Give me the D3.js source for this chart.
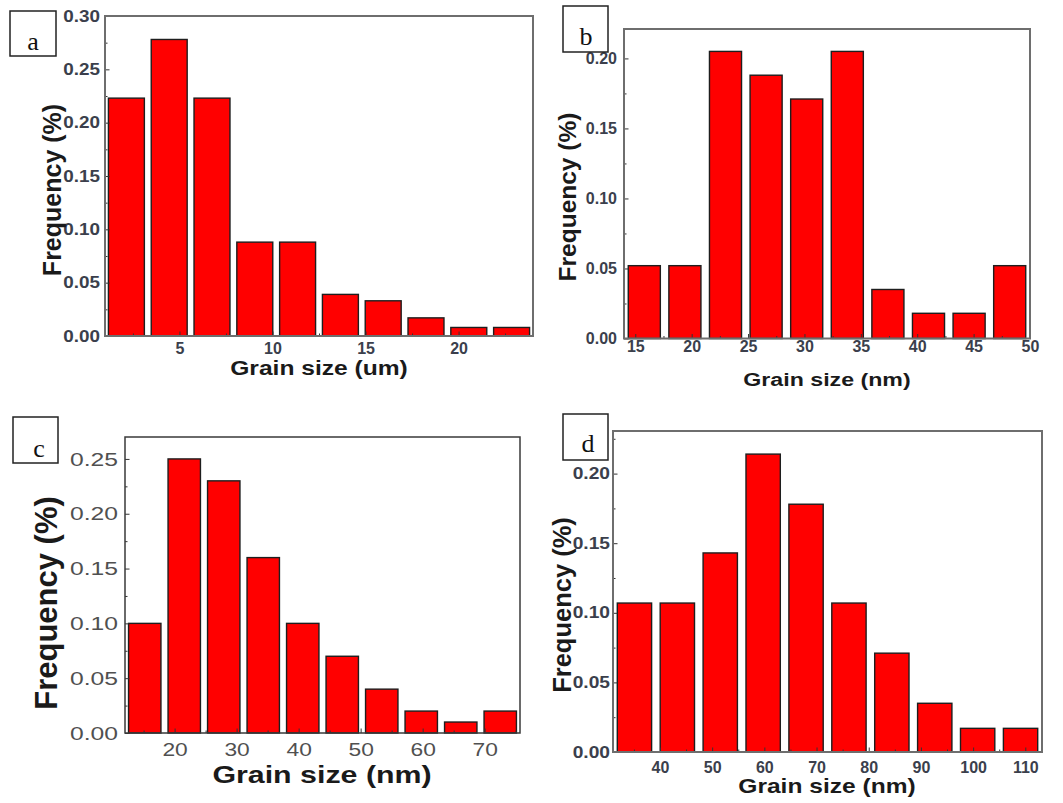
<!DOCTYPE html>
<html>
<head>
<meta charset="utf-8">
<script src="https://cdn.jsdelivr.net/npm/d3@7"></script>
<style>
  body { margin: 0; background: #fff; }
  svg { display: block; }
</style>
</head>
<body>
<div id="canvas"></div>
<script>
// frequencies
const freqA = [0.223, 0.278, 0.223, 0.088, 0.088, 0.039, 0.033, 0.017, 0.008, 0.008];
const freqB = [0.052, 0.052, 0.205, 0.188, 0.171, 0.205, 0.035, 0.018, 0.018, 0.052];
const freqC = [0.10, 0.25, 0.23, 0.16, 0.10, 0.07, 0.04, 0.02, 0.01, 0.02];
const freqD = [0.107, 0.107, 0.143, 0.214, 0.178, 0.107, 0.071, 0.035, 0.017, 0.017];

const xTicksA = [5, 10, 15, 20];
const xTicksB = [15, 20, 25, 30, 35, 40, 45, 50];
const xTicksC = [20, 30, 40, 50, 60, 70];
const xTicksD = [40, 50, 60, 70, 80, 90, 100, 110];

const yTicksA = [0, 0.05, 0.10, 0.15, 0.20, 0.25, 0.30];
const yTicksB = [0, 0.05, 0.10, 0.15, 0.20];
const yTicksC = [0, 0.05, 0.10, 0.15, 0.20, 0.25];
const yTicksD = [0, 0.05, 0.10, 0.15, 0.20];

const xDomainA = [1, 24], xDomainB = [14, 50], xDomainC = [12, 75.7], xDomainD = [31, 113.2];
const yMaxA = 0.30, yMaxB = 0.221, yMaxC = 0.27, yMaxD = 0.2306;

const panelLetters = ["a", "b", "c", "d"];
const xTitles = ["Grain size (um)", "Grain size (nm)", "Grain size (nm)", "Grain size (nm)"];
const yTitle = "Frequency (%)";

const W = 1063, H = 803;
const sans = "'Liberation Sans', Arial, sans-serif";
const serif = "'Liberation Serif', 'Times New Roman', serif";

const svg = d3.select("#canvas").append("svg")
    .attr("width", W).attr("height", H)
    .attr("viewBox", [0, 0, W, H]);

// layout of each panel (pixels); the source image is stretched sideways, hence the sx factors
const panels = [
  { data: freqA, xd: xDomainA, ymax: yMaxA, xt: xTicksA, yt: yTicksA,
    l: 105, r: 533, t: 16, b: 336, barFrac: 0.84,
    tickFont: 16, tickWeight: "bold", tickColor: "#3b3f4c", xPad: 7, yPad: 5, ySx: 1.18, xSx: 1.0,
    frame: "#6e6e6e", frameW: 2,
    yTitle: [52, 190, 25], xTitle: [319, 374.5, 20, 1.23],
    box: [10, 11, 46, 45], letter: [33, 50, 26] },
  { data: freqB, xd: xDomainB, ymax: yMaxB, xt: xTicksB, yt: yTicksB,
    l: 624, r: 1030, t: 29, b: 338.5, barFrac: 0.79,
    tickFont: 16, tickWeight: "bold", tickColor: "#3b3f4c", xPad: 2, yPad: 7, ySx: 1.0, xSx: 1.0,
    frame: "#6e6e6e", frameW: 2,
    yTitle: [567, 197, 24.5], xTitle: [827, 386, 19, 1.22],
    box: [563, 6, 45, 46], letter: [586, 45, 26] },
  { data: freqC, xd: xDomainC, ymax: yMaxC, xt: xTicksC, yt: yTicksC,
    l: 125, r: 520, t: 437, b: 733, barFrac: 0.82,
    tickFont: 19, tickWeight: "normal", tickColor: "#505050", xPad: 10, yPad: 7, ySx: 1.3, xSx: 1.2,
    frame: "#3a3a3a", frameW: 1.5,
    yTitle: [46, 603, 31], xTitle: [322, 783, 23, 1.32],
    box: [13, 417, 45, 46], letter: [39, 457, 26] },
  { data: freqD, xd: xDomainD, ymax: yMaxD, xt: xTicksD, yt: yTicksD,
    l: 613, r: 1042, t: 431, b: 752, barFrac: 0.8,
    tickFont: 16, tickWeight: "bold", tickColor: "#3b3f4c", xPad: 10, yPad: 3, ySx: 1.2, xSx: 1.0,
    frame: "#6e6e6e", frameW: 2,
    yTitle: [562, 605, 25.5], xTitle: [827, 793, 19.5, 1.26],
    box: [563, 414, 45, 46], letter: [588, 452, 26] }
];

panels.forEach((p, k) => drawPanel(p, k));

// widen axis labels in place, keeping their anchor point
function stretch(texts, sx) {
  texts.each(function () {
    const t = d3.select(this);
    const tx = +t.attr("x") || 0, ty = +t.attr("y") || 0;
    t.attr("x", 0).attr("y", 0)
     .attr("transform", `translate(${tx},${ty}) scale(${sx},1)`);
  });
}

function drawPanel(p, k) {
  const g = svg.append("g");
  const x = d3.scaleLinear().domain(p.xd).range([p.l, p.r]);
  const y = d3.scaleLinear().domain([0, p.ymax]).range([p.b, p.t]);
  const bw = (p.xd[1] - p.xd[0]) / p.data.length;

  // bars
  g.selectAll("rect.bar")
    .data(p.data)
    .enter().append("rect")
      .attr("class", "bar")
      .attr("x", (d, i) => {
        const x0 = x(p.xd[0] + i * bw), x1 = x(p.xd[0] + (i + 1) * bw);
        return x0 + (x1 - x0) * (1 - p.barFrac) / 2;
      })
      .attr("width", (d, i) => (x(p.xd[0] + (i + 1) * bw) - x(p.xd[0] + i * bw)) * p.barFrac)
      .attr("y", d => y(d))
      .attr("height", d => y(0) - y(d))
      .attr("fill", "#ff0000")
      .attr("stroke", "#1e1e1e")
      .attr("stroke-width", 1.4);

  // minor ticks
  const yMinor = p.yt.map(v => v + 0.025).filter(v => v < p.ymax);
  g.append("g")
    .attr("transform", `translate(${p.l},0)`)
    .call(d3.axisLeft(y).tickValues(yMinor).tickSize(-2.5).tickFormat(""))
    .call(s => s.select(".domain").remove())
    .call(s => s.selectAll("line").attr("stroke", "#333"));

  const step = p.xt[1] - p.xt[0];
  const xMinor = p.xt.map(v => v - step / 2).concat([p.xt[p.xt.length - 1] + step / 2])
    .filter(v => v > p.xd[0] && v < p.xd[1]);
  g.append("g")
    .attr("transform", `translate(0,${p.b})`)
    .call(d3.axisBottom(x).tickValues(xMinor).tickSize(-2.5).tickFormat(""))
    .call(s => s.select(".domain").remove())
    .call(s => s.selectAll("line").attr("stroke", "#333"));

  // major axes
  const yAxis = g.append("g")
    .attr("transform", `translate(${p.l},0)`)
    .call(d3.axisLeft(y).tickValues(p.yt).tickSize(-4.5).tickPadding(p.yPad).tickFormat(d3.format(".2f")));
  const xAxis = g.append("g")
    .attr("transform", `translate(0,${p.b})`)
    .call(d3.axisBottom(x).tickValues(p.xt).tickSize(-4.5).tickPadding(p.xPad).tickFormat(d3.format("d")));

  [yAxis, xAxis].forEach(a => {
    a.select(".domain").remove();
    a.selectAll("line").attr("stroke", "#333");
    a.selectAll("text")
      .attr("font-family", sans)
      .attr("font-size", p.tickFont)
      .attr("font-weight", p.tickWeight)
      .attr("fill", p.tickColor);
  });
  stretch(yAxis.selectAll("text"), p.ySx);
  stretch(xAxis.selectAll("text"), p.xSx);

  // frame
  g.append("rect")
    .attr("x", p.l).attr("y", p.t)
    .attr("width", p.r - p.l).attr("height", p.b - p.t)
    .attr("fill", "none")
    .attr("stroke", p.frame)
    .attr("stroke-width", p.frameW);

  // titles
  g.append("text")
    .attr("transform", `translate(${p.yTitle[0]},${p.yTitle[1]}) rotate(-90)`)
    .attr("text-anchor", "middle")
    .attr("dy", "0.36em")
    .attr("font-family", sans)
    .attr("font-weight", "bold")
    .attr("font-size", p.yTitle[2])
    .attr("fill", "#1a1a1a")
    .text(yTitle);

  g.append("text")
    .attr("transform", `translate(${p.xTitle[0]},${p.xTitle[1]}) scale(${p.xTitle[3]},1)`)
    .attr("text-anchor", "middle")
    .attr("font-family", sans)
    .attr("font-weight", "bold")
    .attr("font-size", p.xTitle[2])
    .attr("fill", "#1a1a1a")
    .text(xTitles[k]);

  // panel letter box
  g.append("rect")
    .attr("x", p.box[0]).attr("y", p.box[1])
    .attr("width", p.box[2]).attr("height", p.box[3])
    .attr("fill", "#fff")
    .attr("stroke", "#222")
    .attr("stroke-width", 1.5);
  g.append("text")
    .attr("x", p.letter[0]).attr("y", p.letter[1])
    .attr("text-anchor", "middle")
    .attr("font-family", serif)
    .attr("font-size", p.letter[2])
    .attr("fill", "#111")
    .text(panelLetters[k]);
}
</script>
</body>
</html>
